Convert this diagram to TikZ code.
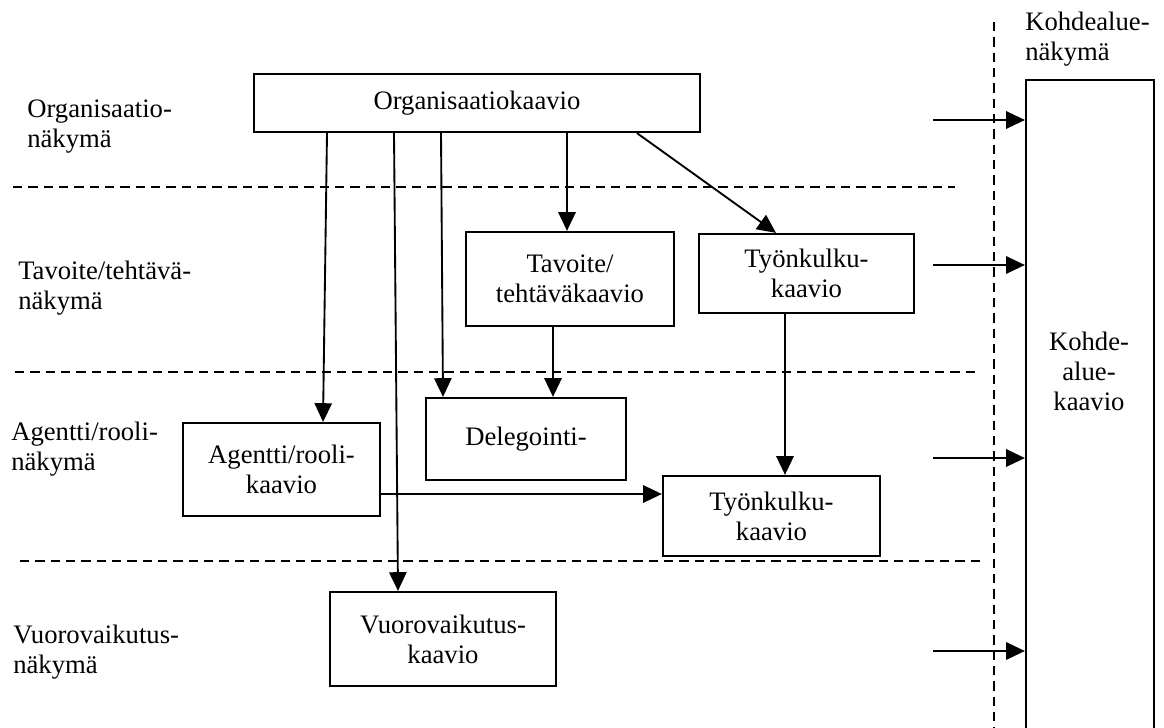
\documentclass[tikz,border=0pt]{standalone}
\usepackage{fontspec}
\setmainfont{Liberation Serif}
\usetikzlibrary{arrows.meta}
\begin{document}
\begin{tikzpicture}[x=0.75pt,y=-0.75pt,
  every node/.style={font=\fontsize{20}{22.5}\selectfont, inner sep=0pt},
  box/.style={draw, line width=1.7pt, align=center},
  lbl/.style={align=left, anchor=west},
  arr/.style={-{Triangle[length=14pt,width=13pt]}, line width=1.4pt},
  sep/.style={dash pattern=on 7pt off 4.5pt, line width=1.3pt}]
\useasboundingbox (0,0) rectangle (1164,728);

% layer separators
\draw[sep] (13,187) -- (955,187);
\draw[sep] (15,372) -- (975,372);
\draw[sep] (20,561) -- (980,561);
\draw[sep] (994,22) -- (994,728);

% view names
\node[lbl] (vOrg) at (27,127) {Organisaatio-\\näkymä};
\node[lbl] (vTav) at (18,288) {Tavoite/tehtävä-\\näkymä};
\node[lbl] (vAg)  at (11,449) {Agentti/rooli-\\näkymä};
\node[lbl] (vVuo) at (13,652) {Vuorovaikutus-\\näkymä};
\node[lbl] (vKoh) at (1025,39) {Kohdealue-\\näkymä};

% diagrams
\node[box, minimum width=334.5pt, minimum height=43.5pt] (org) at (477,103) {Organisaatiokaavio};
\node[box, minimum width=156pt, minimum height=70.5pt] (tav) at (570,279) {Tavoite/\\tehtäväkaavio};
\node[box, minimum width=161.25pt, minimum height=59.25pt] (tyo1) at (806.5,273.5) {Työnkulku-\\kaavio};
\node[box, minimum width=150pt, minimum height=61.5pt] (del) at (526,439) {Delegointi-};
\node[box, minimum width=147.75pt, minimum height=69.75pt] (ag) at (281.5,469.5) {Agentti/rooli-\\kaavio};
\node[box, minimum width=162.75pt, minimum height=60pt] (tyo2) at (771.5,516) {Työnkulku-\\kaavio};
\node[box, minimum width=169.5pt, minimum height=70.5pt] (vuo) at (443,639) {Vuorovaikutus-\\kaavio};
\node[box, minimum width=96pt, minimum height=525pt] (koh) at (1090,430) {};
\node[align=center] (kohTxt) at (1089,371) {Kohde-\\alue-\\kaavio};

% connectors
\draw[arr] (org.south -| 327,0) -- (ag.north -| 323,0);
\draw[arr] (org.south -| 394,0) -- (vuo.north -| 398,0);
\draw[arr] (org.south -| 441,0) -- (del.north -| 443,0);
\draw[arr] (org.south -| 567,0) -- (tav.north -| 567,0);
\draw[arr] (org.south -| 637,0) -- (tyo1.north -| 776,0);
\draw[arr] (tav.south -| 553,0) -- (del.north -| 553,0);
\draw[arr] (tyo1.south -| 785,0) -- (tyo2.north -| 785,0);
\draw[arr] (ag.east |- 0,494) -- (tyo2.west |- 0,494);

% links to the domain diagram
\coordinate (k1) at (933,120);
\coordinate (k2) at (933,265);
\coordinate (k3) at (933,458);
\coordinate (k4) at (933,651);
\draw[arr] (k1) -- (k1 -| koh.west);
\draw[arr] (k2) -- (k2 -| koh.west);
\draw[arr] (k3) -- (k3 -| koh.west);
\draw[arr] (k4) -- (k4 -| koh.west);
\end{tikzpicture}
\end{document}
